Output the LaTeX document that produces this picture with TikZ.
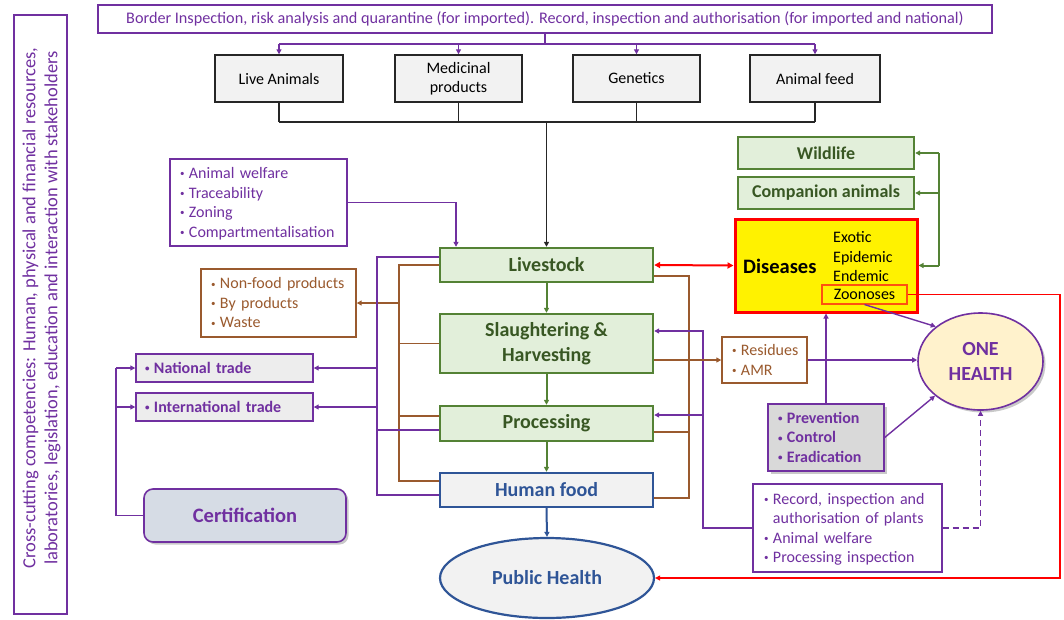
\documentclass[tikz,border=0pt]{standalone}
\usepackage{fontspec}
\setmainfont{Carlito}
\usetikzlibrary{arrows.meta,calc,shadows,shapes.geometric}

\definecolor{pur}{HTML}{7030A0}
\definecolor{grnB}{HTML}{548235}
\definecolor{grnF}{HTML}{E2EFDA}
\definecolor{grnT}{HTML}{385723}
\definecolor{bluB}{HTML}{2F5597}
\definecolor{brn}{HTML}{9A5A2E}
\definecolor{lgray}{HTML}{F2F2F2}
\definecolor{tgray}{HTML}{EDEDED}
\definecolor{pgray}{HTML}{D9D9D9}
\definecolor{certF}{HTML}{D6DCE5}
\definecolor{ohF}{HTML}{FFF2CC}
\definecolor{zooB}{HTML}{FF5010}

\newcommand\fsz[2]{\fontsize{#1}{#2}\selectfont}
% small list bullet
\newcommand\bul{\raisebox{1.8pt}{\fsz{9}{9}\textbullet}\hspace{4.5pt}}
% list body that never wraps, set slightly low within its box
\newcommand\lst[1]{\raisebox{-1.5pt}[\height][\depth]{\begin{tabular}{@{}l@{}}#1\end{tabular}}}

\begin{document}
\begin{tikzpicture}[x=1pt,y=-1pt,
  every node/.style={inner sep=0pt},
  tip/.style={-{Triangle[length=5pt,width=5pt]}},
  pl/.style={draw=pur, line width=1.4pt},
  bl/.style={draw=brn, line width=1.4pt},
  kl/.style={draw=black!85, line width=1.4pt},
  gl/.style={draw=grnB, line width=2pt},
  rl/.style={draw=red, line width=1.2pt},
  srcbox/.style={draw=black!85, line width=1.4pt, fill=lgray, minimum height=47pt,
    align=center, font=\fsz{16}{19.5}},
  stagebox/.style={draw=grnB, line width=2.4pt, fill=grnF, text=grnT,
    font=\bfseries\fsz{20}{25}, minimum width=213pt, align=center},
  foodbox/.style={stagebox, draw=bluB, fill=lgray, text=bluB},
  plist/.style={draw=pur, line width=1.4pt, fill=white, text=pur, align=left,
    font=\fsz{16}{19.5}},
  blist/.style={plist, draw=brn, text=brn},
  tradebox/.style={draw=pur, line width=1.4pt, fill=tgray, text=pur, align=left,
    font=\bfseries\fsz{16}{19.5}, text width=159pt, inner xsep=9pt, minimum height=28pt},
  wildbox/.style={draw=grnB, line width=2.4pt, fill=grnF, text=grnT,
    font=\bfseries\fsz{18}{22}, minimum width=176pt, minimum height=32pt},
  softshadow/.style={drop shadow={shadow xshift=2.5pt, shadow yshift=-2.5pt,
    opacity=0.3, fill=black!70}},
]
\useasboundingbox (0,0) rectangle (1064,619);

% cross-cutting competencies frame
\node[draw=pur, line width=1.4pt, rotate=90, minimum width=599pt, minimum height=53pt,
  text=pur] (cc) at (40.5,314.5) {};
\node[rotate=90, align=center, text=pur, font=\fsz{18.5}{22}] (cct) at (41.5,308)
  {Cross-cutting competencies: Human, physical and financial resources,\\
   laboratories, legislation, education and interaction with stakeholders};

% border inspection banner and inputs
\node[draw=pur, line width=1.4pt, minimum width=894pt, minimum height=28pt, text=pur,
  font=\fsz{16.2}{19}] (top) at (545,19)
  {Border Inspection, risk analysis and quarantine (for imported). Record, inspection and authorisation (for imported and national)};

\node[srcbox, minimum width=128pt] (la) at (279,78.5) {Live Animals};
\node[srcbox, minimum width=127pt] (mp) at (458.5,78.5) {Medicinal\\products};
\node[srcbox, minimum width=127pt] (ge) at (636.5,78.5) {Genetics};
\node[srcbox, minimum width=130pt] (af) at (815,78.5) {Animal feed};

% production chain
\node[stagebox, minimum height=34pt] (live) at (546.5,265) {Livestock};
\node[stagebox, minimum height=59pt] (sl) at (546.5,343.5) {Slaughtering \&\\Harvesting};
\node[stagebox, minimum height=35pt] (proc) at (546.5,423.5) {Processing};
\node[foodbox, minimum height=34pt] (hf) at (546.5,490) {Human food};
\node[ellipse, draw=bluB, line width=2.2pt, fill=lgray, text=bluB, font=\bfseries\fsz{20}{25},
  minimum width=214pt, minimum height=80pt] (ph) at (547,578) {Public Health};

% left side
\node[plist, text width=157pt, inner xsep=10pt, minimum height=87pt] (aw) at (258.5,202.5)
  {\lst{\bul Animal welfare\\\bul Traceability\\\bul Zoning\\\bul Compartmentalisation}};
\node[blist, text width=135pt, inner xsep=10pt, minimum height=68pt] (nf) at (278.5,303)
  {\lst{\bul Non-food products\\\bul By products\\\bul Waste}};
\node[tradebox] (nt) at (224.5,368) {\lst{\bul National trade}};
\node[tradebox] (it) at (224.5,407) {\lst{\bul International trade}};
\node[softshadow, draw=pur, line width=1.6pt, rounded corners=9pt, fill=certF, text=pur,
  font=\bfseries\fsz{20.5}{24}, minimum width=202pt, minimum height=53pt] (cert) at (245,515.5) {Certification};

% right side
\node[wildbox] (wl) at (826,153) {Wildlife};
\node[wildbox] (ca) at (826,193) {Companion animals};
\node[draw=red, line width=3pt, fill=yellow, minimum width=182pt, minimum height=93pt] (dis) at (826,265.5) {};
\node[anchor=west, font=\bfseries\fsz{20.5}{24}] (dist) at (743,266) {Diseases};
\node[anchor=base west, font=\fsz{16}{19.5}] (ex) at (833,242.5) {Exotic};
\node[anchor=base west, font=\fsz{16}{19.5}] (ep) at (833,262) {Epidemic};
\node[anchor=base west, font=\fsz{16}{19.5}] (en) at (833,281.5) {Endemic};
\node[draw=zooB, line width=1.1pt, minimum width=85pt, minimum height=19pt,
  font=\fsz{16}{19.5}] (zoo) at (864.5,294.5) {Zoonoses};

\node[ellipse, softshadow, draw=pur, line width=1.6pt, fill=ohF, text=pur, align=center,
  font=\bfseries\fsz{20}{25}, minimum width=125pt, minimum height=97pt] (oh) at (980.5,361.5) {ONE\\HEALTH};
\node[blist, text width=65pt, inner xsep=10pt, minimum height=46pt] (res) at (764.5,360)
  {\lst{\bul Residues\\\bul AMR}};
\node[plist, softshadow, fill=pgray, font=\bfseries\fsz{16}{19.5}, text width=96pt, inner xsep=10pt,
  minimum height=67pt] (prev) at (826,437.5)
  {\lst{\bul Prevention\\\bul Control\\\bul Eradication}};
\node[plist, text width=167pt, inner xsep=11pt, minimum height=88pt] (rec) at (847.5,528)
  {\lst{\bul Record, inspection and\\\phantom{\bul}authorisation of plants\\\bul Animal welfare\\\bul Processing inspection}};

% inputs: banner to the four sources
\coordinate (tj) at (545,44);
\draw[pl] (top.south) -- (tj);
\draw[pl] (tj -| la) -- (tj -| af);
\foreach \n in {la,mp,ge,af} \draw[pl,tip] (tj -| \n) -- (\n.north);

% sources merge into livestock
\coordinate (bj) at (546.5,122);
\foreach \n in {la,mp,ge,af} \draw[kl] (\n.south) -- (bj -| \n);
\draw[kl] (bj -| la) -- (bj -| af);
\draw[kl,tip] (bj) -- (live.north);

% chain arrows
\draw[gl,tip] (live.south) -- (sl.north);
\draw[gl,tip] (sl.south) -- (proc.north);
\draw[gl,tip] (proc.south) -- (hf.north);
\draw[draw=bluB, line width=2pt, tip] (hf.south) -- (ph.north);

% welfare requirements into livestock
\coordinate (awin) at (456,0);
\draw[pl,tip] (aw.east) -| (awin |- live.north);

% left brown bus: by-products
\coordinate (bv) at (399,0);
\coordinate (prB) at ($(proc.west)+(0,-7.5)$);
\coordinate (hfB) at ($(hf.west)+(0,-9)$);
\draw[bl] (live.west) -- (live.west -| bv) -- (hfB -| bv) -- (hfB);
\draw[bl] (sl.west) -- (sl.west -| bv);
\draw[bl] (prB) -- (prB -| bv);
\draw[bl,tip] (nf.east -| bv) -- (nf.east);

% left purple bus: trade
\coordinate (pv) at (377,0);
\coordinate (lvP) at ($(live.west)+(0,-8)$);
\coordinate (prP) at ($(proc.west)+(0,6.5)$);
\coordinate (hfP) at ($(hf.west)+(0,5)$);
\draw[pl] (lvP) -- (lvP -| pv) -- (hfP -| pv) -- (hfP);
\draw[pl] (prP) -- (prP -| pv);
\draw[pl,tip] (pv |- nt.east) -- (nt.east);
\draw[pl,tip] (pv |- it.east) -- (it.east);

% certification to trade
\coordinate (cv) at (116,0);
\draw[pl] (cert.west) -- (cert.west -| cv) -- (nt.west -| cv);
\draw[pl,tip] (nt.west -| cv) -- (nt.west);
\draw[pl,tip] (it.west -| cv) -- (it.west);

% right brown bus
\coordinate (bv2) at (689,0);
\coordinate (lvR) at ($(live.east)+(0,11)$);
\coordinate (prR) at ($(proc.east)+(0,8.5)$);
\coordinate (hfR) at ($(hf.east)+(0,8)$);
\draw[bl] (lvR) -- (lvR -| bv2) -- (hfR -| bv2) -- (hfR);
\draw[bl] (prR) -- (prR -| bv2);

% inspection of plants back into the chain
\coordinate (pv2) at (703,0);
\coordinate (slP) at ($(sl.east)+(0,-12.5)$);
\coordinate (prQ) at ($(proc.east)+(0,-8.5)$);
\draw[pl,tip] (rec.west) -- (rec.west -| pv2) -- (slP -| pv2) -- (slP);
\draw[pl,tip] (prQ -| pv2) -- (prQ);

% diseases links
\draw[draw=red, line width=2pt, {Triangle[length=6pt,width=6pt]}-{Triangle[length=6pt,width=6pt]}]
  (live.east) -- (dis.west);
\coordinate (gv) at (939,0);
\draw[gl] (wl.east -| gv) -- (dis.east -| gv);
\foreach \n in {wl,ca,dis} \draw[gl,tip] (\n.east -| gv) -- (\n.east);

% residues and one health
\draw[bl,tip] (sl.east |- res.west) -- (res.west);
\draw[pl,tip] (res.east) -- (res.east -| oh.west);
\draw[pl,tip] (prev.north) -- (dis.south);
\draw[pl,tip] (prev.east) -- (oh.217);
\draw[pl,tip] (zoo.south) -- (oh.142);
\draw[pl,dash pattern=on 6pt off 4pt,tip] (rec.east) -| (oh.south);

% zoonoses to public health
\coordinate (rv) at (1060,0);
\draw[rl,tip] (zoo.east) -- (zoo.east -| rv) -- (ph.east -| rv) -- (ph.east);
\end{tikzpicture}
\end{document}
